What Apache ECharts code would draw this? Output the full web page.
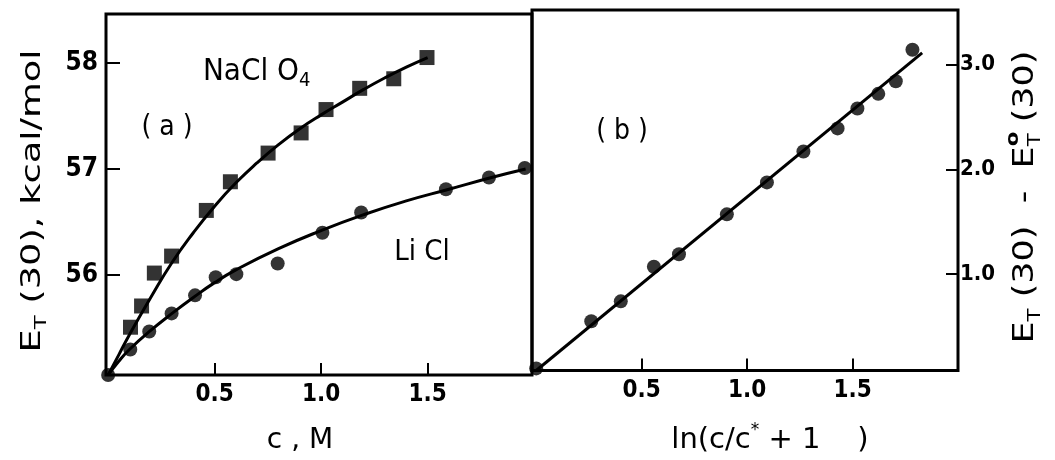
<!DOCTYPE html>
<html><head><meta charset="utf-8">
<script src="https://cdn.jsdelivr.net/npm/echarts@6/dist/echarts.min.js"></script>
<style>html,body{margin:0;padding:0;background:#fff}#c{width:1055px;height:460px}</style>
</head><body><div id="c"></div>
<script>
// ---------- panel (a): E_T(30) vs c ----------
const naclo4Conc = [0.105, 0.157, 0.217, 0.298, 0.461, 0.574, 0.751, 0.906, 1.023, 1.181, 1.341, 1.497];
const naclo4ET   = [55.51, 55.71, 56.02, 56.18, 56.61, 56.88, 57.15, 57.34, 57.56, 57.76, 57.85, 58.05];
const naclo4FitConc = [0, 0.05, 0.1, 0.2, 0.3, 0.4, 0.5, 0.6, 0.7, 0.8, 0.9, 1.0, 1.1, 1.2, 1.3, 1.4, 1.5];
const naclo4FitET   = [55.06, 55.25, 55.44, 55.79, 56.12, 56.40, 56.65, 56.87, 57.06, 57.23, 57.38, 57.51, 57.63, 57.75, 57.86, 57.96, 58.05];

const liclConc = [0, 0.104, 0.193, 0.298, 0.408, 0.505, 0.602, 0.796, 1.006, 1.188, 1.586, 1.788, 1.956];
const liclET   = [55.06, 55.30, 55.47, 55.64, 55.81, 55.98, 56.01, 56.11, 56.40, 56.59, 56.81, 56.92, 57.01];
const liclFitConc = [0, 0.05, 0.1, 0.2, 0.3, 0.4, 0.5, 0.6, 0.8, 1.0, 1.2, 1.4, 1.6, 1.8, 1.96];
const liclFitET   = [55.06, 55.19, 55.30, 55.48, 55.64, 55.79, 55.93, 56.05, 56.25, 56.42, 56.57, 56.70, 56.81, 56.92, 57.0];

// ---------- panel (b): E_T(30) - E_T0(30) vs ln(c/c* + 1) ----------
const lnX     = [0, 0.261, 0.401, 0.558, 0.677, 0.904, 1.094, 1.267, 1.429, 1.523, 1.622, 1.705, 1.784];
const deltaET = [0.1, 0.55, 0.74, 1.07, 1.19, 1.57, 1.875, 2.17, 2.39, 2.58, 2.72, 2.84, 3.14];
const fitLnX     = [0, 1.83];
const fitDeltaET = [0.08, 3.11];

// ---------- ticks ----------
const ticksAX = [0.5, 1.0, 1.5];
const ticksAY = [56, 57, 58];
const ticksBX = [0.5, 1.0, 1.5];
const ticksBY = [1.0, 2.0, 3.0];

const zip = (xs, ys) => xs.map((x, i) => [x, ys[i]]);
const FONT = "'DejaVu Sans Condensed', 'DejaVu Sans', sans-serif";
const WIDE = "'DejaVu Sans', sans-serif";
const NARROW = "'Liberation Sans Narrow', 'DejaVu Sans Condensed', sans-serif";

const ctx = document.createElement('canvas').getContext('2d');
function measure(t, font) { ctx.font = font; return ctx.measureText(t).width; }

function rotatedTitle(parts, cx, cy, length) {
  let x = 0, prevX = 0;
  const items = [];
  parts.forEach(p => {
    const font = (p.weight || 'normal') + ' ' + p.size + 'px ' + (p.family || "'DejaVu Sans'");
    const w = measure(p.t, font);
    if (p.overlay) {
      items.push({ t: p.t, font, x: prevX, dy: p.dy });
    } else {
      items.push({ t: p.t, font, x: x, dy: p.dy });
      prevX = x;
      x += w;
    }
  });
  const total = x;
  return {
    type: 'group', x: cx, y: cy, rotation: Math.PI / 2, scaleX: length / total,
    children: items.map(it => ({
      type: 'text', x: it.x - total / 2, y: it.dy,
      style: { text: it.t, font: it.font, fill: '#000', align: 'left', verticalAlign: 'middle' }
    }))
  };
}

const chart = echarts.init(document.getElementById('c'), null, { renderer: 'canvas' });

const axisCommon = {
  type: 'value',
  axisLine: { show: false, onZero: false },
  splitLine: { show: false },
};
const fmt1 = v => v.toFixed(1);

const option = {
  backgroundColor: '#fff',
  animation: false,
  grid: [
    { left: 106, top: 14, width: 426, height: 361, show: true, borderColor: '#000', borderWidth: 3 },
    { left: 532, top: 10, width: 426, height: 365, show: true, borderColor: '#000', borderWidth: 3 }
  ],
  xAxis: [
    Object.assign({}, axisCommon, {
      gridIndex: 0, min: -0.01, max: 1.99,
      axisTick: { inside: true, length: 12, customValues: ticksAX, lineStyle: { color: '#000', width: 2 } },
      axisLabel: { customValues: ticksAX, formatter: fmt1, color: '#000', fontFamily: FONT, fontSize: 24, fontWeight: 'bold', margin: 8 },
      name: 'c , M', nameLocation: 'middle', nameGap: 52,
      nameTextStyle: { color: '#000', fontFamily: WIDE, fontSize: 28, padding: [0, 38, 0, 0] }
    }),
    Object.assign({}, axisCommon, {
      gridIndex: 1, min: -0.02, max: 2.0,
      axisTick: { inside: true, length: 12, customValues: ticksBX, lineStyle: { color: '#000', width: 2 } },
      axisLabel: { customValues: ticksBX, formatter: fmt1, color: '#000', fontFamily: FONT, fontSize: 24, fontWeight: 'bold', margin: 8 },
      name: '{m|ln(c/c}{s|*}{m| + 1    )}', nameLocation: 'middle', nameGap: 52,
      nameTextStyle: {
        color: '#000', padding: [0, 0, 0, 50],
        rich: {
          m: { fontFamily: WIDE, fontSize: 29, color: '#000', lineHeight: 36 },
          s: { fontFamily: WIDE, fontSize: 17, color: '#000', verticalAlign: 'top', lineHeight: 36 }
        }
      }
    })
  ],
  yAxis: [
    Object.assign({}, axisCommon, {
      gridIndex: 0, min: 55.06, max: 58.46, position: 'left',
      axisTick: { inside: true, length: 14, customValues: ticksAY, lineStyle: { color: '#000', width: 2 } },
      axisLabel: { customValues: ticksAY, color: '#000', fontFamily: FONT, fontSize: 26, fontWeight: 'bold', margin: 8 }
    }),
    Object.assign({}, axisCommon, {
      gridIndex: 1, min: 0.08, max: 3.52, position: 'right',
      axisTick: { inside: true, length: 12, customValues: ticksBY, lineStyle: { color: '#000', width: 2 } },
      axisLabel: { customValues: ticksBY, formatter: fmt1, color: '#000', fontFamily: NARROW, fontSize: 22, fontWeight: 'bold', margin: 2 }
    })
  ],
  series: [
    { type: 'line', xAxisIndex: 0, yAxisIndex: 0, data: zip(naclo4FitConc, naclo4FitET), smooth: true,
      showSymbol: false, lineStyle: { color: '#000', width: 3 }, z: 2 },
    { type: 'scatter', xAxisIndex: 0, yAxisIndex: 0, data: zip(naclo4Conc, naclo4ET), symbol: 'rect',
      symbolSize: 15, itemStyle: { color: '#000' }, clip: false, z: 3 },
    { type: 'line', xAxisIndex: 0, yAxisIndex: 0, data: zip(liclFitConc, liclFitET), smooth: true,
      showSymbol: false, lineStyle: { color: '#000', width: 3 }, z: 2 },
    { type: 'scatter', xAxisIndex: 0, yAxisIndex: 0, data: zip(liclConc, liclET), symbol: 'circle',
      symbolSize: 14, itemStyle: { color: '#000' }, clip: false, z: 3 },
    { type: 'line', xAxisIndex: 1, yAxisIndex: 1, data: zip(fitLnX, fitDeltaET),
      showSymbol: false, lineStyle: { color: '#000', width: 3 }, z: 2 },
    { type: 'scatter', xAxisIndex: 1, yAxisIndex: 1, data: zip(lnX, deltaET), symbol: 'circle',
      symbolSize: 14, itemStyle: { color: '#000' }, clip: false, z: 3 }
  ],
  graphic: [
    { type: 'text', x: 167, y: 128, style: { text: '( a )', font: "28px 'DejaVu Sans Condensed'", fill: '#000', align: 'center', verticalAlign: 'middle' } },
    { type: 'text', x: 203, y: 72, style: {
        text: '{m|NaCl O}{s|4}', align: 'left', verticalAlign: 'middle',
        rich: {
          m: { font: "31px 'DejaVu Sans Condensed'", fill: '#000', lineHeight: 38 },
          s: { font: "20px 'DejaVu Sans Condensed'", fill: '#000', verticalAlign: 'bottom', lineHeight: 38 }
        } } },
    { type: 'text', x: 422, y: 252, style: { text: 'Li Cl', font: "29px 'DejaVu Sans Condensed'", fill: '#000', align: 'center', verticalAlign: 'middle' } },
    { type: 'text', x: 622, y: 132, style: { text: '( b )', font: "28px 'DejaVu Sans Condensed'", fill: '#000', align: 'center', verticalAlign: 'middle' } },
    rotatedTitle([
      { t: 'E', size: 26, dy: 0 },
      { t: 'T', size: 16, dy: 9 },
      { t: ' (30), kcal/mol', size: 26, dy: 0 }
    ], 33, 201, 303),
    rotatedTitle([
      { t: 'E', size: 28, dy: 0 },
      { t: 'T', size: 17, dy: 10 },
      { t: ' (30)  -  E', size: 28, dy: 0 },
      { t: 'T', size: 17, dy: 10 },
      { t: 'o', size: 17, dy: -12, weight: 'bold', overlay: true },
      { t: ' (30)', size: 28, dy: 0 }
    ], 1026, 197, 293)
  ]
};
chart.setOption(option);
</script>
</body></html>
